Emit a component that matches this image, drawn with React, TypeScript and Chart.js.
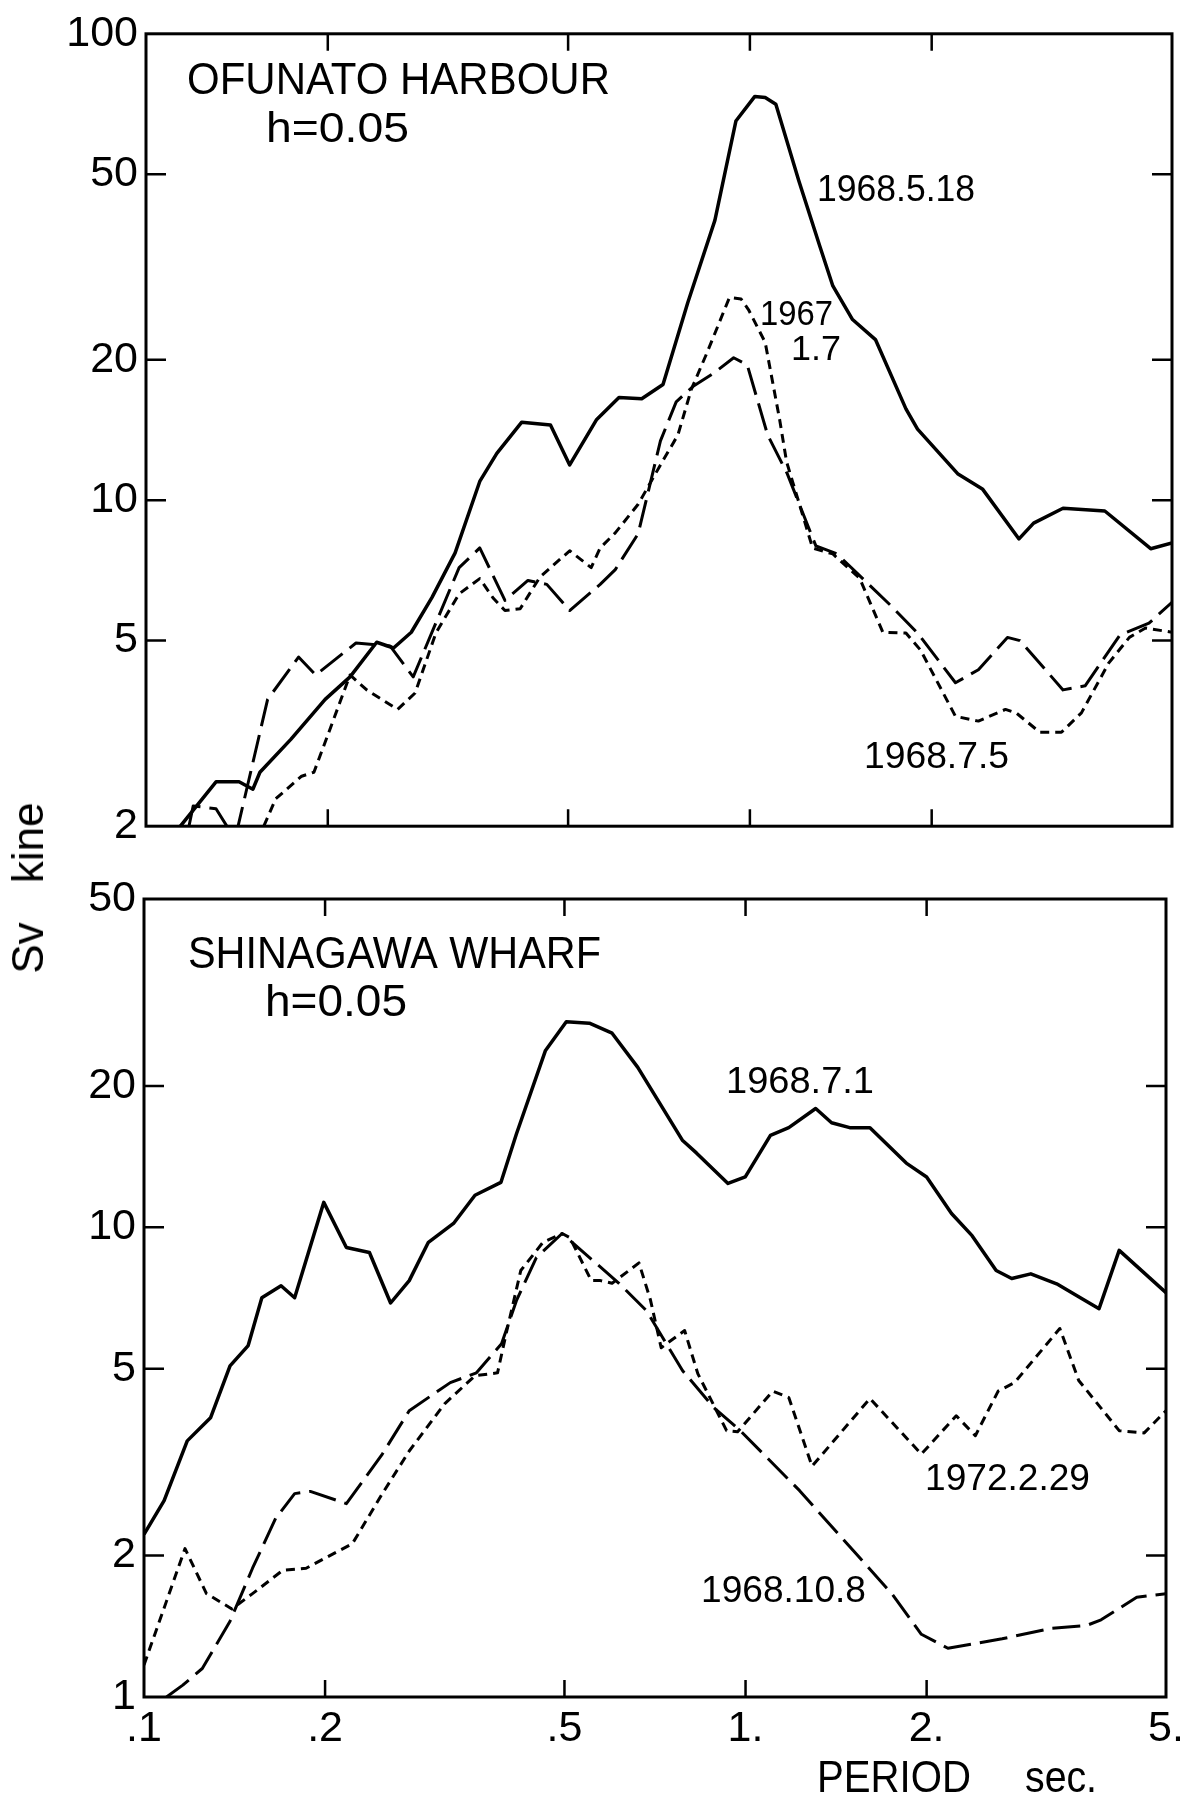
import React, { useEffect, useRef } from "react";
import { Chart, registerables } from "chart.js";

Chart.register(...registerables);

const FONT = "'Liberation Sans', Arial, Helvetica, sans-serif";

// ---------- tick values / labels ----------
const periodTicks = [0.1, 0.2, 0.5, 1, 2, 5];
const periodTickLabels = [".1", ".2", ".5", "1.", "2.", "5."];
const ofunatoSvTicks = [2, 5, 10, 20, 50, 100];
const ofunatoSvTickLabels = ["2", "5", "10", "20", "50", "100"];
const shinagawaSvTicks = [1, 2, 5, 10, 20, 50];
const shinagawaSvTickLabels = ["1", "2", "5", "10", "20", "50"];

// ---------- OFUNATO HARBOUR ----------
const ofu680518Period = [0.114, 0.1306, 0.1426, 0.1503, 0.1544, 0.1737, 0.198, 0.2177, 0.241, 0.257, 0.275, 0.2976, 0.325, 0.357, 0.381, 0.419, 0.4675, 0.503, 0.5576, 0.607, 0.662, 0.718, 0.789, 0.875, 0.948, 1.019, 1.06, 1.104, 1.205, 1.306, 1.372, 1.479, 1.614, 1.813, 1.895, 2.208, 2.43, 2.79, 2.95, 3.3, 3.87, 4.61, 5.0];
const ofu680518Sv = [2.0, 2.49, 2.49, 2.4, 2.61, 3.07, 3.74, 4.18, 4.96, 4.82, 5.21, 6.19, 7.71, 10.97, 12.6, 14.7, 14.5, 11.9, 14.9, 16.6, 16.5, 17.7, 26.5, 39.8, 65, 73.4, 73, 70.6, 48.4, 35, 28.8, 24.4, 22.1, 15.7, 14.2, 11.4, 10.55, 8.26, 8.93, 9.61, 9.48, 7.87, 8.1];

const ofu680705Period = [0.1178, 0.1197, 0.1306, 0.1378, 0.1414, 0.159, 0.1789, 0.191, 0.2227, 0.2536, 0.277, 0.33, 0.357, 0.393, 0.429, 0.461, 0.503, 0.565, 0.5985, 0.653, 0.711, 0.755, 0.808, 0.875, 0.94, 0.99, 1.07, 1.153, 1.286, 1.394, 1.71, 1.895, 2.19, 2.39, 2.67, 2.8, 3.3, 3.59, 4.1, 4.58, 5.0];
const ofu680705Sv = [2.0, 2.21, 2.18, 1.95, 1.95, 3.74, 4.61, 4.22, 4.94, 4.87, 4.18, 7.17, 7.9, 6.1, 6.73, 6.6, 5.8, 6.6, 7.1, 8.47, 13.4, 16.25, 17.6, 18.8, 20.2, 19.5, 13.8, 11.4, 7.98, 7.67, 5.95, 5.19, 4.06, 4.33, 5.08, 5.0, 3.92, 4.0, 5.14, 5.45, 6.04];

const ofu670107Period = [0.1567, 0.164, 0.181, 0.1897, 0.2008, 0.2177, 0.232, 0.261, 0.279, 0.302, 0.33, 0.357, 0.376, 0.393, 0.4165, 0.449, 0.503, 0.546, 0.565, 0.5985, 0.653, 0.711, 0.76, 0.8, 0.849, 0.925, 0.967, 0.995, 1.06, 1.12, 1.15, 1.27, 1.372, 1.52, 1.66, 1.813, 1.917, 2.19, 2.39, 2.65, 2.76, 3.02, 3.28, 3.54, 3.93, 4.25, 4.52, 5.0];
const ofu670107Sv = [2.0, 2.29, 2.56, 2.61, 3.18, 4.22, 3.92, 3.56, 3.86, 5.19, 6.3, 6.79, 6.16, 5.8, 5.85, 6.84, 7.79, 7.17, 7.9, 8.51, 9.8, 11.9, 13.8, 17.3, 20.7, 27.2, 27, 25.6, 21.8, 14.9, 12.1, 7.9, 7.67, 6.8, 5.21, 5.19, 4.77, 3.44, 3.36, 3.56, 3.5, 3.18, 3.18, 3.5, 4.48, 5.08, 5.32, 5.21];

// ---------- SHINAGAWA WHARF ----------
const shi680701Period = [0.1, 0.108, 0.118, 0.129, 0.139, 0.149, 0.157, 0.169, 0.178, 0.199, 0.217, 0.237, 0.257, 0.276, 0.297, 0.327, 0.355, 0.392, 0.416, 0.465, 0.5035, 0.55, 0.6, 0.662, 0.786, 0.8285, 0.935, 0.999, 1.1, 1.18, 1.308, 1.39, 1.49, 1.61, 1.85, 2.0, 2.2, 2.38, 2.61, 2.77, 2.98, 3.29, 3.62, 3.87, 4.18, 5.0];
const shi680701Sv = [2.22, 2.62, 3.51, 3.93, 5.07, 5.6, 7.08, 7.51, 7.08, 11.3, 9.06, 8.84, 6.9, 7.7, 9.29, 10.19, 11.7, 12.46, 15.8, 23.8, 27.4, 27.2, 25.9, 21.9, 15.3, 14.4, 12.4, 12.8, 15.7, 16.3, 17.9, 16.7, 16.3, 16.3, 13.7, 12.8, 10.7, 9.6, 8.09, 7.78, 7.96, 7.58, 7.05, 6.71, 8.93, 7.26];

const shi681008Period = [0.109, 0.116, 0.125, 0.139, 0.1515, 0.1655, 0.178, 0.189, 0.217, 0.249, 0.276, 0.323, 0.357, 0.393, 0.416, 0.449, 0.4955, 0.616, 0.684, 0.786, 0.886, 0.98, 1.23, 1.51, 1.75, 1.96, 2.17, 2.67, 3.22, 3.69, 3.9, 4.47, 5.0];
const shi681008Sv = [1.0, 1.06, 1.15, 1.45, 1.88, 2.4, 2.71, 2.74, 2.58, 3.29, 4.07, 4.67, 4.9, 5.65, 6.98, 8.62, 9.7, 7.6, 6.65, 4.95, 4.13, 3.69, 2.75, 2.05, 1.66, 1.36, 1.27, 1.33, 1.4, 1.42, 1.46, 1.63, 1.66];

const shi720229Period = [0.1, 0.109, 0.117, 0.127, 0.14, 0.1515, 0.17, 0.186, 0.222, 0.249, 0.276, 0.316, 0.355, 0.387, 0.4, 0.423, 0.4605, 0.4955, 0.5107, 0.554, 0.574, 0.6, 0.665, 0.695, 0.724, 0.792, 0.833, 0.93, 0.97, 1.11, 1.18, 1.29, 1.61, 1.96, 2.24, 2.41, 2.63, 2.8, 3.33, 3.58, 4.18, 4.6, 5.0];
const shi720229Sv = [1.17, 1.6, 2.07, 1.66, 1.54, 1.66, 1.86, 1.88, 2.12, 2.71, 3.34, 4.21, 4.83, 4.9, 5.94, 8.09, 9.29, 9.7, 9.5, 7.7, 7.7, 7.6, 8.4, 7.0, 5.54, 6.03, 4.88, 3.69, 3.67, 4.48, 4.34, 3.1, 4.32, 3.29, 3.97, 3.6, 4.48, 4.67, 6.09, 4.72, 3.69, 3.65, 4.07];

// ---------- styles ----------
const SOLID: number[] = [];
const LONG_DASH = [28, 9];
const SHORT_DASH = [9, 6];

type TextItem = { text: string; x: number; y: number; size: number; width?: number };

const pts = (t: number[], s: number[]) => t.map((v, i) => ({ x: v, y: s[i] }));

const ds = (t: number[], s: number[], dash: number[], w: number) => ({
  data: pts(t, s),
  borderColor: "#000",
  borderWidth: w,
  borderDash: dash,
  borderJoinStyle: "round",
  pointRadius: 0,
  fill: false,
  tension: 0,
});

function framePlugin(innerX: number[], innerY: number[], texts: TextItem[]) {
  return {
    id: "frameAndText",
    afterDraw(chart: any) {
      const { ctx, chartArea: a, scales } = chart;
      const L = 17;
      ctx.save();
      ctx.strokeStyle = "#000";
      ctx.lineWidth = 3;
      ctx.strokeRect(a.left, a.top, a.right - a.left, a.bottom - a.top);
      ctx.lineWidth = 2.5;
      ctx.beginPath();
      innerX.forEach((v) => {
        const px = scales.x.getPixelForValue(v);
        ctx.moveTo(px, a.bottom);
        ctx.lineTo(px, a.bottom - L);
        ctx.moveTo(px, a.top);
        ctx.lineTo(px, a.top + L);
      });
      innerY.forEach((v) => {
        const py = scales.y.getPixelForValue(v);
        ctx.moveTo(a.left, py);
        ctx.lineTo(a.left + L + 3, py);
        ctx.moveTo(a.right, py);
        ctx.lineTo(a.right - L - 3, py);
      });
      ctx.stroke();
      ctx.fillStyle = "#000";
      ctx.textAlign = "left";
      ctx.textBaseline = "alphabetic";
      texts.forEach((t) => {
        ctx.font = `${t.size}px ${FONT}`;
        const w = ctx.measureText(t.text).width;
        const sx = t.width ? t.width / w : 1;
        ctx.save();
        ctx.translate(t.x, t.y);
        ctx.scale(sx, 1);
        ctx.fillText(t.text, 0, 0);
        ctx.restore();
      });
      ctx.restore();
    },
  };
}

function makeConfig(p: {
  datasets: any[];
  yMin: number;
  yMax: number;
  yTicks: number[];
  yLabels: string[];
  showX: boolean;
  leftW: number;
  padTop: number;
  padRight: number;
  xHeight: number;
  innerY: number[];
  texts: TextItem[];
}): any {
  return {
    type: "line",
    data: { datasets: p.datasets },
    options: {
      animation: false,
      responsive: false,
      devicePixelRatio: 1,
      layout: { padding: { left: 0, right: p.padRight, top: p.padTop, bottom: 0 } },
      plugins: { legend: { display: false }, tooltip: { enabled: false } },
      scales: {
        x: {
          type: "logarithmic",
          min: 0.1,
          max: 5,
          grid: { display: false, drawTicks: false },
          border: { display: false },
          afterBuildTicks: (s: any) => {
            s.ticks = periodTicks.map((v) => ({ value: v }));
          },
          afterFit: (s: any) => {
            s.height = p.xHeight;
          },
          ticks: {
            display: p.showX,
            autoSkip: false,
            maxRotation: 0,
            padding: 6,
            color: "#000",
            font: { family: FONT, size: 43 },
            callback: (_v: any, i: number) => periodTickLabels[i],
          },
        },
        y: {
          type: "logarithmic",
          min: p.yMin,
          max: p.yMax,
          grid: { display: false, drawTicks: false },
          border: { display: false },
          afterBuildTicks: (s: any) => {
            s.ticks = p.yTicks.map((v) => ({ value: v }));
          },
          afterFit: (s: any) => {
            s.width = p.leftW;
          },
          ticks: {
            autoSkip: false,
            padding: 8,
            color: "#000",
            font: { family: FONT, size: 43 },
            callback: (_v: any, i: number) => p.yLabels[i],
          },
        },
      },
    },
    plugins: [framePlugin([0.2, 0.5, 1, 2], p.innerY, p.texts)],
  };
}

export default function App() {
  const topRef = useRef<HTMLCanvasElement>(null);
  const botRef = useRef<HTMLCanvasElement>(null);

  useEffect(() => {
    const top = new Chart(
      topRef.current as HTMLCanvasElement,
      makeConfig({
        datasets: [
          ds(ofu680518Period, ofu680518Sv, SOLID, 3.5),
          ds(ofu680705Period, ofu680705Sv, LONG_DASH, 3),
          ds(ofu670107Period, ofu670107Sv, SHORT_DASH, 3),
        ],
        yMin: 2,
        yMax: 100,
        yTicks: ofunatoSvTicks,
        yLabels: ofunatoSvTickLabels,
        showX: false,
        leftW: 146,
        padTop: 29,
        padRight: 28,
        xHeight: 33,
        innerY: [5, 10, 20, 50],
        texts: [
          { text: "OFUNATO HARBOUR", x: 187, y: 94, size: 44, width: 423 },
          { text: "h=0.05", x: 266, y: 142, size: 43, width: 143 },
          { text: "1968.5.18", x: 817, y: 201, size: 36, width: 158 },
          { text: "1967", x: 760, y: 325, size: 35, width: 73 },
          { text: "1.7", x: 791, y: 360, size: 35, width: 50 },
          { text: "1968.7.5", x: 864, y: 768, size: 36, width: 145 },
        ],
      })
    );
    const bot = new Chart(
      botRef.current as HTMLCanvasElement,
      makeConfig({
        datasets: [
          ds(shi680701Period, shi680701Sv, SOLID, 3.5),
          ds(shi681008Period, shi681008Sv, LONG_DASH, 3),
          ds(shi720229Period, shi720229Sv, SHORT_DASH, 3),
        ],
        yMin: 1,
        yMax: 50,
        yTicks: shinagawaSvTicks,
        yLabels: shinagawaSvTickLabels,
        showX: true,
        leftW: 144,
        padTop: 39,
        padRight: 34,
        xHeight: 116,
        innerY: [2, 5, 10, 20],
        texts: [
          { text: "SHINAGAWA WHARF", x: 188, y: 108, size: 45, width: 413 },
          { text: "h=0.05", x: 265, y: 156, size: 44, width: 142 },
          { text: "1968.7.1", x: 726, y: 233, size: 36, width: 148 },
          { text: "1972.2.29", x: 925, y: 630, size: 36, width: 165 },
          { text: "1968.10.8", x: 701, y: 742, size: 36, width: 165 },
          { text: "PERIOD", x: 817, y: 932, size: 44, width: 154 },
          { text: "sec.", x: 1025, y: 932, size: 44, width: 72 },
        ],
      })
    );
    return () => {
      top.destroy();
      bot.destroy();
    };
  }, []);

  return (
    <div
      style={{
        position: "absolute",
        left: 0,
        top: 0,
        width: 1200,
        height: 1813,
        background: "#fff",
        overflow: "hidden",
      }}
    >
      <canvas
        ref={topRef}
        width={1200}
        height={860}
        style={{ position: "absolute", left: 0, top: 0, width: 1200, height: 860, display: "block" }}
      />
      <canvas
        ref={botRef}
        width={1200}
        height={953}
        style={{ position: "absolute", left: 0, top: 860, width: 1200, height: 953, display: "block" }}
      />
      <div
        style={{
          position: "absolute",
          left: 28,
          top: 888,
          transform: "translate(-50%, -50%) rotate(-90deg)",
          fontFamily: FONT,
          fontSize: 44,
          lineHeight: "44px",
          whiteSpace: "nowrap",
          wordSpacing: 27,
          color: "#000",
        }}
      >
        Sv kine
      </div>
    </div>
  );
}
